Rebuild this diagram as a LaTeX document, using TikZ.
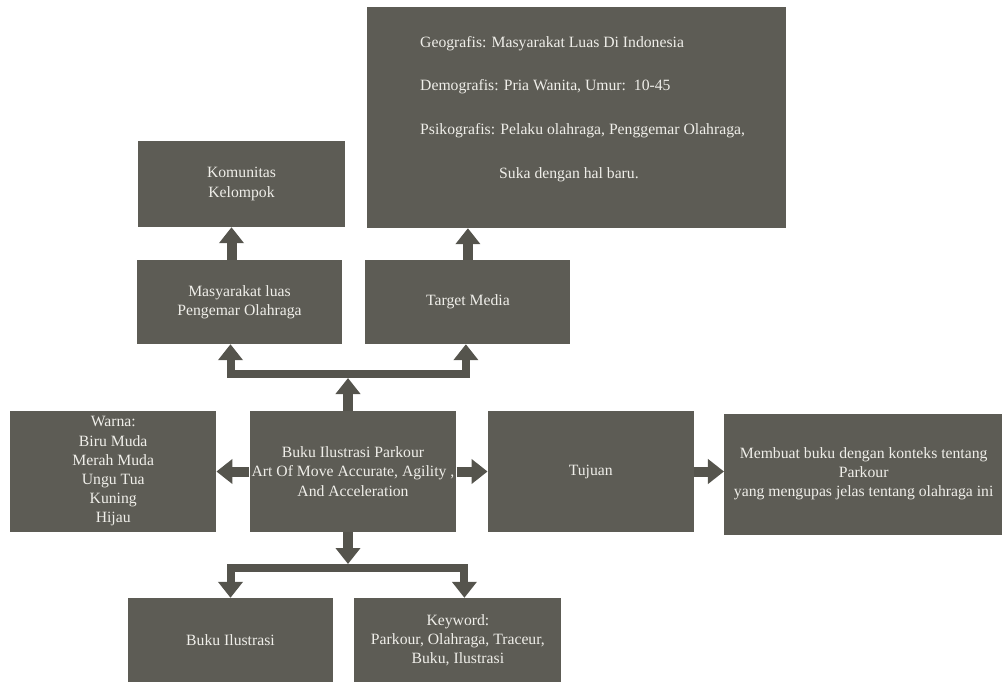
\documentclass[tikz,border=0pt]{standalone}
\usepackage{fontspec}
\setmainfont{Liberation Serif}
\usetikzlibrary{arrows.meta, positioning}
\definecolor{boxgrey}{HTML}{5D5C55}
\definecolor{arrowgrey}{HTML}{55544D}
\definecolor{textgrey}{HTML}{EFEEE9}

\begin{document}
\begin{tikzpicture}[
  x=1pt, y=-1pt,
  node distance=31pt,
  block/.style={rectangle, fill=boxgrey, text=textgrey, minimum width=206pt, minimum height=121pt, inner sep=2pt, font=\fontsize{15.7}{19.2}\selectfont, align=center},
  small/.style={block, minimum height=84pt},
  segtext/.style={text=textgrey, inner sep=0pt, font=\fontsize{15.7}{19.2}\selectfont, align=left},
  arrow/.style={-{Triangle[length=16pt, width=24pt]}, line width=10pt, draw=arrowgrey},
  bus/.style={{Triangle[length=16pt, width=24pt]}-{Triangle[length=16pt, width=24pt]}, line width=8pt, draw=arrowgrey}
]
  \useasboundingbox (0,0) rectangle (1002,681);

  % middle row
  \node[block] (buku) at (353,471.5) {Buku Ilustrasi Parkour\\Art Of Move Accurate, Agility ,\\And Acceleration};
  \node[block, left=33pt of buku] (warna) {Warna:\\Biru Muda\\Merah Muda\\Ungu Tua\\Kuning\\Hijau};
  \node[block, right=31pt of buku] (tujuan) {Tujuan};
  \node[block, right=30pt of tujuan, yshift=-2.5pt, minimum width=279pt] (membuat) {Membuat buku dengan konteks tentang\\Parkour\\yang mengupas jelas tentang olahraga ini};

  % upper rows
  \node[small, minimum width=205pt] (mas) at (239.5,302) {Masyarakat luas\\Pengemar Olahraga};
  \node[small, minimum width=205pt, right=23pt of mas] (target) {Target Media};
  \node[small, minimum width=207pt, minimum height=86pt] (komunitas) at (241.5,184) {Komunitas\\Kelompok};
  \node[block, minimum width=419pt, minimum height=221pt] (segmen) at (576.5,117.5) {};
  \node[segtext, anchor=north west] (segisi) at (420,36) {Geografis: Masyarakat Luas Di Indonesia\\[24.4pt]
    Demografis: Pria Wanita, Umur:\ \ 10-45\\[24.4pt]
    Psikografis: Pelaku olahraga, Penggemar Olahraga,\\[24.4pt]
    \hspace*{79pt}Suka dengan hal baru.};

  % lower row
  \node[small, minimum width=205pt] (bukuilus) at (230.5,640) {Buku Ilustrasi};
  \node[small, minimum width=207pt, right=21pt of bukuilus] (keyword) {Keyword:\\Parkour, Olahraga, Traceur,\\Buku, Ilustrasi};

  % connectors
  \coordinate (topbus) at (348,374);
  \coordinate (botbus) at (348,568);
  \draw[arrow, shorten >=4pt] (buku.north -| topbus) -- (topbus);
  \draw[bus] ([xshift=-9pt]mas.south) |- (topbus) -| ([xshift=-2pt]target.south);
  \draw[arrow] ([xshift=-8pt]mas.north) -- ([xshift=-10pt]komunitas.south);
  \draw[arrow] (target.north) -- (target.north |- segmen.south);
  \draw[arrow] (buku.west) -- (warna.east);
  \draw[arrow] (buku.east) -- (tujuan.west);
  \draw[arrow] (tujuan.east) -- (tujuan.east -| membuat.west);
  \draw[arrow, shorten >=4pt] (buku.south -| botbus) -- (botbus);
  \draw[bus] (bukuilus.north) |- (botbus) -| ([xshift=6.5pt]keyword.north);
\end{tikzpicture}
\end{document}
